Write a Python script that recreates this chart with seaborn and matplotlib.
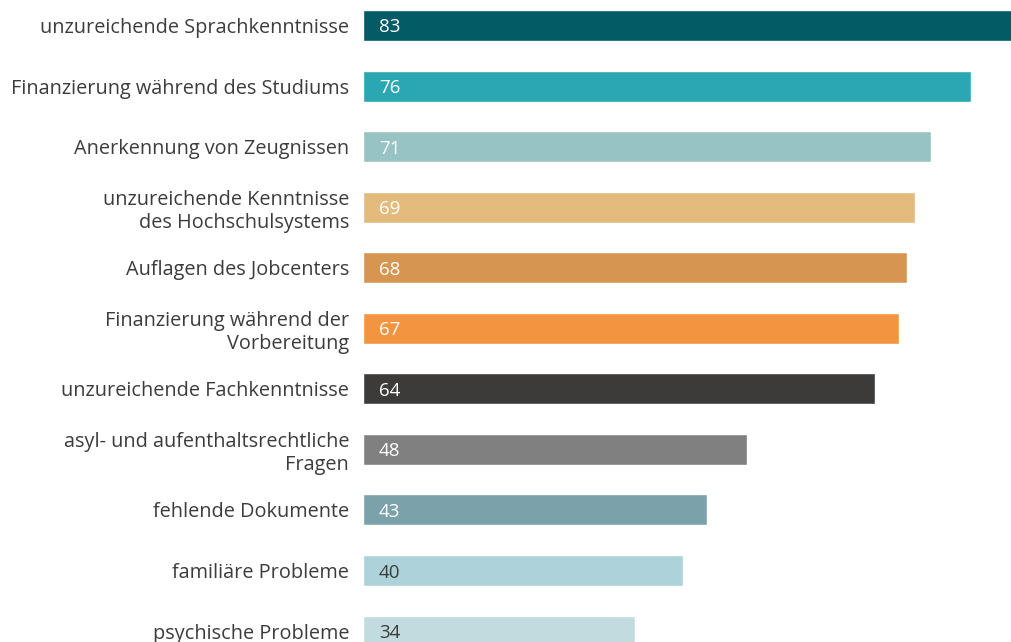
import matplotlib
matplotlib.use("Agg")
import matplotlib.pyplot as plt
import seaborn as sns
import pandas as pd

# data
categories = [
    "unzureichende Sprachkenntnisse",
    "Finanzierung während des Studiums",
    "Anerkennung von Zeugnissen",
    "unzureichende Kenntnisse\ndes Hochschulsystems",
    "Auflagen des Jobcenters",
    "Finanzierung während der\nVorbereitung",
    "unzureichende Fachkenntnisse",
    "asyl- und aufenthaltsrechtliche\nFragen",
    "fehlende Dokumente",
    "familiäre Probleme",
    "psychische Probleme",
]
values = [83, 76, 71, 69, 68, 67, 64, 48, 43, 40, 34]
bar_colors = ["#025b65", "#2ba7b3", "#98c3c4", "#e3bb7d", "#d69550", "#f39540",
              "#3c3b3a", "#808080", "#7ba1aa", "#add2da", "#c2dbde"]
label_colors = ["white"] * 9 + ["#3c3c3b"] * 2

df = pd.DataFrame({"cat": categories, "val": values})

sns.set_theme(style="white")
plt.rcParams["font.family"] = ["Open Sans", "DejaVu Sans"]

fig = plt.figure(figsize=(10.11, 6.42), dpi=100)
ax = fig.add_axes([363 / 1011, 0, 1 - 363 / 1011, 1])

sns.barplot(data=df, x="val", y="cat", hue="cat", palette=bar_colors,
            orient="h", width=0.512, legend=False, ax=ax, saturation=1)

ax.set_xlim(0, 81)
ax.set_ylim(10.18, -0.421)
sns.despine(ax=ax, left=True, bottom=True)
ax.set_xticks([])
ax.set_xlabel("")
ax.set_ylabel("")
ax.tick_params(axis="y", length=0, pad=10, labelsize=14.3, labelcolor="#3c3c3b")
for t in ax.get_yticklabels():
    t.set_linespacing(1.2)

for cont, v, c in zip(ax.containers, values, label_colors):
    p = cont.patches[0]
    ax.annotate(str(v), xy=(p.get_x(), p.get_y() + p.get_height() / 2),
                xytext=(16, 0), textcoords="offset pixels",
                va="center_baseline", ha="left", fontsize=13.5, color=c)

fig.savefig("out.png", dpi=100)
